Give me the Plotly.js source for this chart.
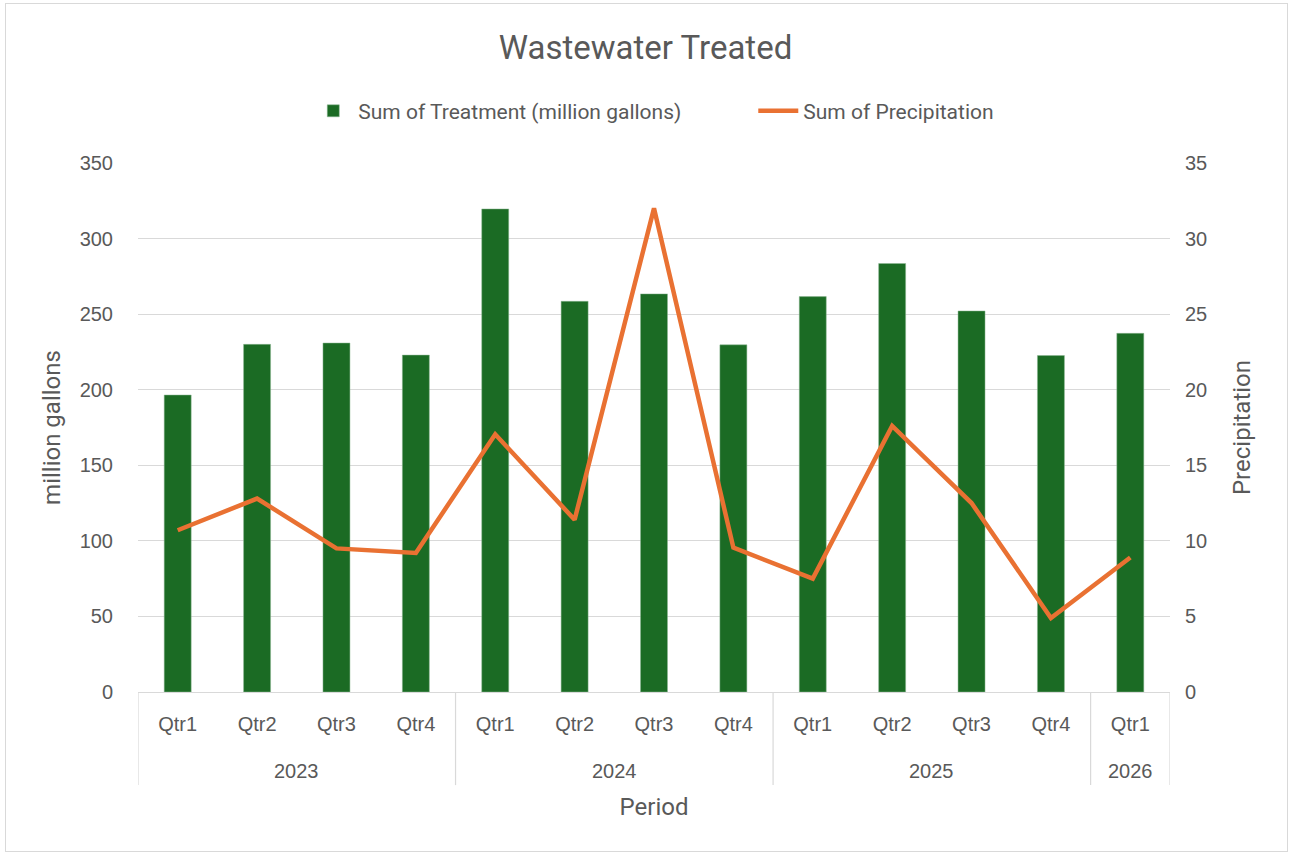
<!DOCTYPE html>
<html><head><meta charset="utf-8">
<script src="https://cdn.plot.ly/plotly-3.0.1.min.js"></script>
<style>html,body{margin:0;padding:0;background:#fff;}#frame{position:absolute;left:5px;top:3px;width:1281px;height:847px;border:1px solid #d9d9d9;pointer-events:none;}</style>
</head><body>
<div id="chart" style="width:1291px;height:854px;"></div>
<div id="frame"></div>
<script>
const years = ["2023","2023","2023","2023","2024","2024","2024","2024","2025","2025","2025","2025","2026"];
const quarters = ["Qtr1","Qtr2","Qtr3","Qtr4","Qtr1","Qtr2","Qtr3","Qtr4","Qtr1","Qtr2","Qtr3","Qtr4","Qtr1"];
const treatment = [196.5, 230.0, 230.9, 222.9, 319.6, 258.5, 263.4, 229.7, 261.6, 283.5, 252.1, 222.6, 237.3];
const precipitation = [10.7, 12.8, 9.5, 9.2, 17.05, 11.4, 32.0, 9.55, 7.5, 17.6, 12.5, 4.9, 8.9];

const titleFont = "Roboto, 'Open Sans', sans-serif";
const tickFont = "'Liberation Sans', Arial, sans-serif";
const grey = "#595959";
const lineGrey = "#d9d9d9";

const keys = years.map((y, i) => y + " " + quarters[i]);

// group boundaries for the year row
const groups = [];
years.forEach((y, i) => {
  if (i === 0 || years[i - 1] !== y) groups.push({year: y, start: i, end: i});
  else groups[groups.length - 1].end = i;
});

const annotations = groups.map(g => ({
  x: (g.start + g.end) / 2, xref: "x", y: -0.149, yref: "paper",
  text: g.year, showarrow: false, xanchor: "center", yanchor: "middle",
  font: {family: tickFont, size: 20, color: grey}
}));

const dividerPos = groups.map(g => g.start - 0.5).concat([groups[groups.length - 1].end + 0.5]);
const shapes = dividerPos.map(p => ({
  type: "line", xref: "x", yref: "paper", x0: p, x1: p, y0: 0, y1: -0.176,
  line: {color: lineGrey, width: 1.2}
}));

const traces = [
  {type:"bar", name:"Sum of Treatment (million gallons)", x:keys, y:treatment,
   marker:{color:"#1b6b24", line:{color:"#8fb894", width:0.5}}, yaxis:"y"},
  {type:"scatter", mode:"lines", name:"Sum of Precipitation", x:keys, y:precipitation,
   line:{color:"#e97132", width:4.5}, yaxis:"y2"}
];

const layout = {
  width:1291, height:854,
  margin:{l:138, r:121, t:163, b:162},
  paper_bgcolor:"#fff", plot_bgcolor:"#fff",
  font:{family:titleFont, color:grey, size:17},
  title:{text:"Wastewater Treated", x:0.5, xanchor:"center", y:0.945, yanchor:"middle", font:{size:33, color:grey, family:titleFont}},
  showlegend:true,
  legend:{orientation:"h", x:0.165, xanchor:"left", y:1.098, yanchor:"middle", font:{size:21, color:grey, family:titleFont},
          itemwidth:40, entrywidth:390, entrywidthmode:"pixels", traceorder:"normal"},
  bargap:0.66,
  annotations: annotations,
  shapes: shapes,
  xaxis:{type:"category", range:[-0.5, keys.length - 0.5], showgrid:false, showline:true, linecolor:lineGrey, linewidth:1.2,
         tickmode:"array", tickvals:keys, ticktext:quarters,
         ticks:"outside", ticklen:14, tickcolor:"rgba(0,0,0,0)",
         tickfont:{size:20, color:grey, family:tickFont},
         title:{text:"Period", font:{size:24, color:grey, family:titleFont}, standoff:64}},
  yaxis:{range:[0,350], dtick:50, gridcolor:lineGrey, gridwidth:1.2, zeroline:false, showline:false,
         ticks:"outside", ticklen:20, tickcolor:"rgba(0,0,0,0)", tickfont:{size:20, color:grey, family:tickFont},
         title:{text:"million gallons", font:{size:24, color:grey, family:titleFont}, standoff:12}},
  yaxis2:{range:[0,35], dtick:5, overlaying:"y", side:"right", showgrid:false, zeroline:false, showline:false,
          ticks:"outside", ticklen:10, tickcolor:"rgba(0,0,0,0)", tickfont:{size:20, color:grey, family:tickFont},
          title:{text:"Precipitation", font:{size:24, color:grey, family:titleFont}, standoff:26}}
};

Plotly.newPlot("chart", traces, layout, {displayModeBar:false, staticPlot:true});
</script>
</body></html>
